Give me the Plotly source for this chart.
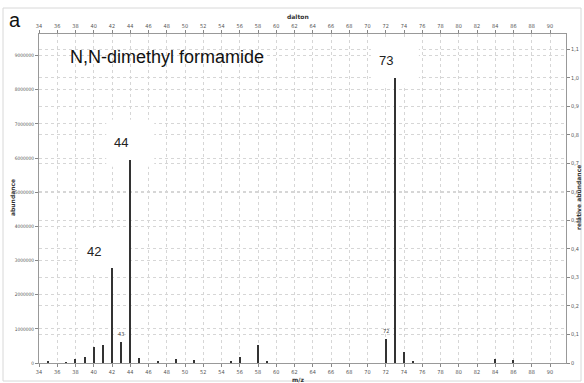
import plotly.graph_objects as go

# ---- data ----
mz = [35, 37, 38, 39, 40, 41, 42, 43, 44, 45, 47, 49, 51, 55, 56, 58, 59, 72, 73, 74, 75, 84, 86]
abundance = [30000, 20000, 120000, 180000, 470000, 530000, 2780000, 610000, 5950000, 150000,
             30000, 130000, 80000, 30000, 170000, 530000, 40000, 700000, 8350000, 330000,
             30000, 120000, 80000]
big_labels = ["42", "44", "73"]
big_label_mz = [42, 44, 73]
small_labels = ["43", "72"]
small_label_mz = [43, 72]
x_ticks = list(range(34, 91, 2))
y_ticks = list(range(0, 9000001, 1000000))
rel_ticks = [i / 10 for i in range(0, 12)]
rel_ticktext = ["0"] + [("%.1f" % v).replace(".", ",") for v in rel_ticks[1:]]
title_text = "N,N-dimethyl formamide"

W, H = 584, 383
L, R, T, B = 39, 18, 34, 20
PW, PH = W - L - R, H - T - B
px_per_unit = 9.125
px_per_abund = 34.15e-6
x0 = 34
x1 = x0 + PW / px_per_unit
y1 = PH / px_per_abund
peak = max(abundance)
rel_max = y1 / peak
relative = [a / peak for a in abundance]

def pxx(v):  # data x -> pixel
    return L + (v - x0) * px_per_unit

def pxy(v):  # data y -> pixel
    return T + PH - v * px_per_abund

def ux(px):
    return x0 + (px - L) / px_per_unit

def uy(py):
    return (T + PH - py) / px_per_abund

def paper_x(px):
    return (px - L) / PW

def paper_y(py):
    return (T + PH - py) / PH

grid = dict(showgrid=True, gridcolor="#d6d6d6", griddash="dot", gridwidth=1)
tickfont = dict(family="DejaVu Sans Condensed, DejaVu Sans", size=5.5, color="#555")

fig = go.Figure()
fig.add_trace(go.Bar(x=mz, y=abundance, width=0.13, marker=dict(color="#333333", line=dict(width=0)),
                     hoverinfo="x+y", showlegend=False))
fig.add_trace(go.Bar(x=mz, y=relative, width=0.13, xaxis="x2", yaxis="y2",
                     marker=dict(color="rgba(0,0,0,0)"), hoverinfo="skip", showlegend=False))

# white label boxes behind bars, labels
shapes = []
annotations = []
ab = dict(zip(mz, abundance))
label_dx = {42: -18, 44: -9, 73: -9}
for lab, m in zip(big_labels, big_label_mz):
    top_px = pxy(ab[m])
    tx = pxx(m) + label_dx[m]
    cx = tx + 9
    shapes.append(dict(type="rect", xref="x", yref="y", layer="between",
                       x0=ux(cx - 24), x1=ux(cx + 24), y0=uy(top_px + 7), y1=uy(top_px - 40),
                       fillcolor="white", line=dict(width=0)))
    annotations.append(dict(x=ux(tx), y=uy(top_px - 17), xref="x", yref="y", text=lab,
                            xanchor="center", yanchor="middle",
                            showarrow=False, font=dict(family="Liberation Sans, Arial", size=13, color="#222")))
for lab, m in zip(small_labels, small_label_mz):
    annotations.append(dict(x=m, y=uy(pxy(ab[m]) - 3), xref="x", yref="y", text=lab,
                            xanchor="center", yanchor="bottom",
                            showarrow=False, font=dict(family="DejaVu Sans Condensed", size=5.5, color="#444")))

def txt(px, py, text, size, family="DejaVu Sans", color="#333", angle=0):
    return dict(x=paper_x(px), y=paper_y(py), xref="paper", yref="paper", text=text, showarrow=False,
                xanchor="center", yanchor="middle", textangle=angle,
                font=dict(family=family, size=size, color=color))

annotations += [
    txt(167, 57, title_text, 18, "Liberation Sans, Arial", "#111"),
    txt(15, 20, "a", 20, "Liberation Sans, Arial", "#111"),
    txt(298, 16, "<b>dalton</b>", 6),
    txt(298, 379, "<b>m/z</b>", 6),
    txt(12, 198, "<b>abundance</b>", 6, angle=-90),
    txt(578, 198, "<b>relative abundance</b>", 6, angle=-90),
]

shapes.append(dict(type="rect", xref="paper", yref="paper", layer="below",
                   x0=paper_x(3), x1=paper_x(581), y0=paper_y(381), y1=paper_y(8),
                   line=dict(color="#d8d8d8", width=1), fillcolor="rgba(0,0,0,0)"))

fig.update_layout(
    template="none",
    width=W, height=H, margin=dict(l=L, r=R, t=T, b=B, autoexpand=False),
    paper_bgcolor="white", plot_bgcolor="white", bargap=0,
    xaxis=dict(range=[x0, x1], tickvals=x_ticks, ticks="outside", ticklen=3, tickcolor="#888",
               showline=True, linecolor="#999", linewidth=1, mirror=True, tickfont=tickfont,
               zeroline=False, automargin=False, **grid),
    yaxis=dict(range=[0, y1], tickvals=y_ticks, ticktext=[str(v) for v in y_ticks], ticks="outside",
               ticklen=3, tickcolor="#888", showline=True, linecolor="#999", linewidth=1, mirror=True,
               tickfont=dict(family="DejaVu Sans Condensed, DejaVu Sans", size=4.8, color="#555"),
               zeroline=False, automargin=False, **grid),
    xaxis2=dict(range=[x0, x1], overlaying="x", side="top", tickvals=x_ticks, ticks="outside",
                ticklen=3, tickcolor="#888", showgrid=False, tickfont=tickfont, zeroline=False,
                automargin=False),
    yaxis2=dict(range=[0, rel_max], overlaying="y", side="right", tickvals=rel_ticks,
                ticktext=rel_ticktext, ticks="outside", ticklen=3, tickcolor="#888",
                tickfont=dict(family="DejaVu Sans Condensed, DejaVu Sans", size=5.5, color="#555"),
                zeroline=False, automargin=False, **grid),
    shapes=shapes, annotations=annotations,
)

fig.write_html("out.html")
